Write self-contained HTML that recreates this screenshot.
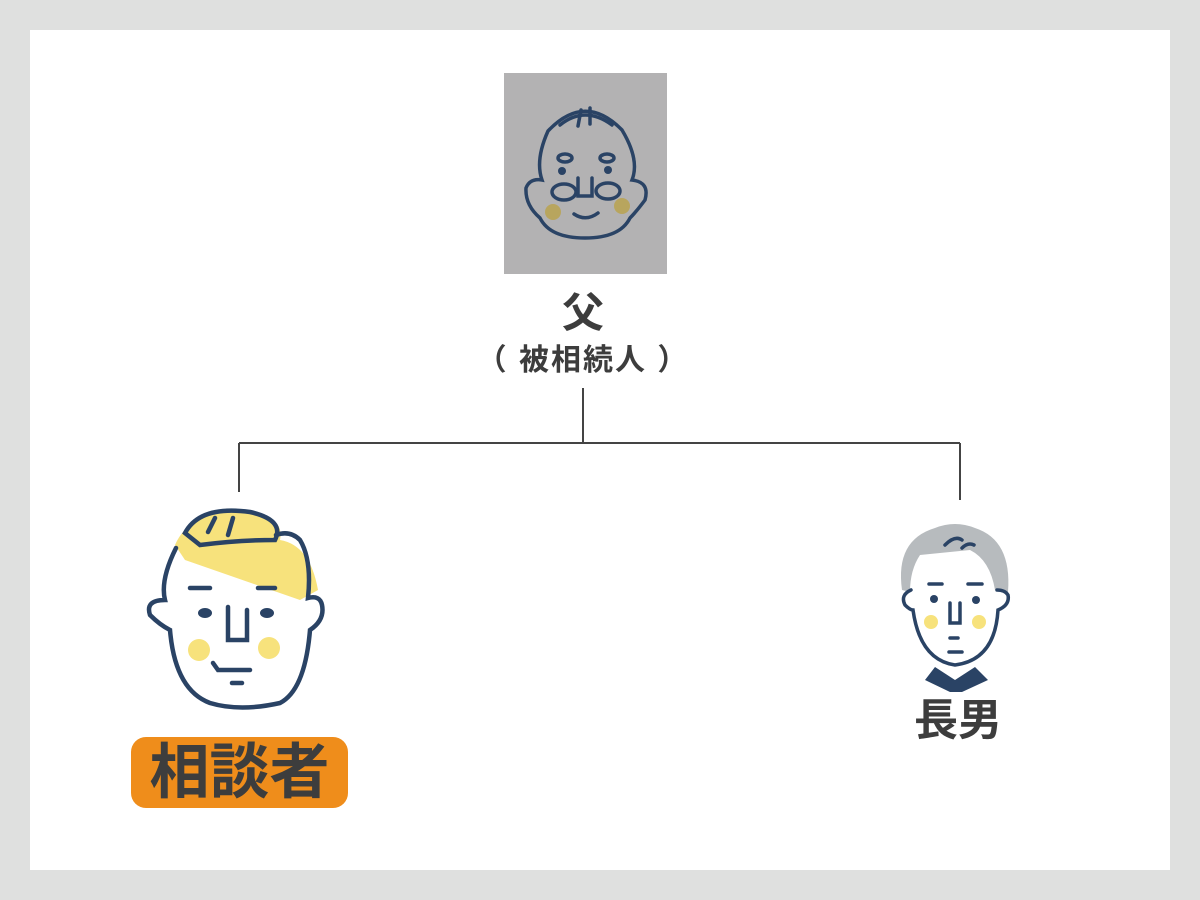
<!DOCTYPE html>
<html><head><meta charset="utf-8"><style>
html,body{margin:0;padding:0;}
body{width:1200px;height:900px;background:#dfe0df;position:relative;overflow:hidden;font-family:"Liberation Sans","Noto Sans CJK JP",sans-serif;}
.panel{position:absolute;left:30px;top:30px;width:1140px;height:840px;background:#fff;}
.t{position:absolute;color:#3d3d3d;font-weight:bold;white-space:nowrap;text-align:center;}
</style></head><body>
<div class="panel"></div>
<svg style="position:absolute;left:0;top:0" width="1200" height="900">
<rect x="504" y="73" width="163" height="201" fill="#b3b2b3"/>
<g fill="none" stroke="#2a4365" stroke-width="3.5" stroke-linecap="round">
<path d="M548 131 Q585 92 622 130 Q640 160 632 180 Q650 182 645 200 Q636 212 630 218 Q620 238 585 238 Q550 238 540 218 Q525 205 526 188 Q530 178 542 180 Q535 160 548 131Z"/>
<path d="M560 125 Q585 105 612 125"/><path d="M581 110 L578 126"/><path d="M590 108 L590 124"/>
<ellipse cx="565" cy="158" rx="7" ry="4"/><ellipse cx="607" cy="158" rx="7" ry="4"/>
<ellipse cx="564" cy="192" rx="12" ry="8"/><ellipse cx="608" cy="191" rx="12" ry="8"/>
<path d="M578 178 L578 196 L592 196 L592 178"/><path d="M574 214 Q586 222 598 213"/>
</g>
<circle cx="562" cy="171" r="4" fill="#2a4365"/><circle cx="608" cy="170" r="4" fill="#2a4365"/>
<circle cx="553" cy="212" r="8" fill="#b8a55e"/><circle cx="622" cy="206" r="8" fill="#b8a55e"/>
<g stroke="#444" stroke-width="2" fill="none">
<path d="M583 388 V443 M239 443 H960 M239 443 V492 M960 443 V500"/>
</g>
<path d="M175 545 Q190 510 245 512 Q285 515 280 540 Q310 545 318 590 L300 600 L185 560Z" fill="#f7e27c"/>
<g fill="none" stroke="#2a4365" stroke-width="4.5" stroke-linecap="round">
<path d="M176 548 Q160 580 165 600 Q145 600 150 615 Q160 625 170 630 Q175 690 210 703 Q240 712 280 703 Q305 690 310 630 Q325 620 322 605 Q320 595 308 598 Q312 560 300 540 Q290 530 276 535"/>
<path d="M185 533 Q200 505 250 512 Q285 520 275 540 Q240 540 200 545 Z"/>
<path d="M215 518 L208 532"/><path d="M233 518 L228 535"/>
<path d="M190 588 H210"/><path d="M258 588 H275"/>
<path d="M228 607 V640 H247 V610"/><path d="M213 663 L218 670 H250"/><path d="M232 683 H242"/>
</g>
<ellipse cx="205" cy="613" rx="7" ry="5" fill="#2a4365"/><ellipse cx="267" cy="613" rx="7" ry="5" fill="#2a4365"/>
<circle cx="199" cy="650" r="11" fill="#f7e27c"/><circle cx="269" cy="648" r="11" fill="#f7e27c"/>
<path d="M902 590 Q895 540 935 528 Q955 520 975 528 Q1012 540 1008 592 L995 590 Q990 560 970 550 L920 555 Q910 570 910 592Z" fill="#b7bbbe"/>
<path d="M935 667 L955 680 L975 667 L988 680 L962 692 L950 692 L925 680Z" fill="#2a4365"/>
<g fill="none" stroke="#2a4365" stroke-width="3.5" stroke-linecap="round">
<path d="M911 590 Q900 595 905 605 Q910 610 913 610 Q920 660 955 665 Q995 660 998 610 Q1010 605 1008 595 Q1005 590 997 590"/>
<path d="M945 545 Q955 535 962 540"/><path d="M962 548 Q968 542 974 545"/>
<path d="M929 584 H942"/><path d="M968 584 H982"/>
<path d="M950 603 V623 H960 V603"/><path d="M950 638 H958"/><path d="M949 652 H962"/>
</g>
<circle cx="934" cy="599" r="4" fill="#2a4365"/><circle cx="976" cy="600" r="4" fill="#2a4365"/>
<circle cx="931" cy="622" r="7" fill="#f7e27c"/><circle cx="979" cy="622" r="7" fill="#f7e27c"/>
</svg>
<div class="t" style="left:483px;top:287px;width:200px;font-size:42px;line-height:52px;">父</div>
<div class="t" style="left:463px;top:341px;width:240px;font-size:30px;line-height:40px;letter-spacing:2px;">（ 被相続人 ）</div>
<div style="position:absolute;left:131px;top:737px;width:217px;height:71px;background:#ef8d1b;border-radius:15px;"></div>
<div class="t" style="left:131px;top:737px;width:217px;font-size:60px;line-height:71px;">相談者</div>
<div class="t" style="left:878px;top:694px;width:160px;font-size:44px;line-height:54px;">長男</div>
</body></html>
